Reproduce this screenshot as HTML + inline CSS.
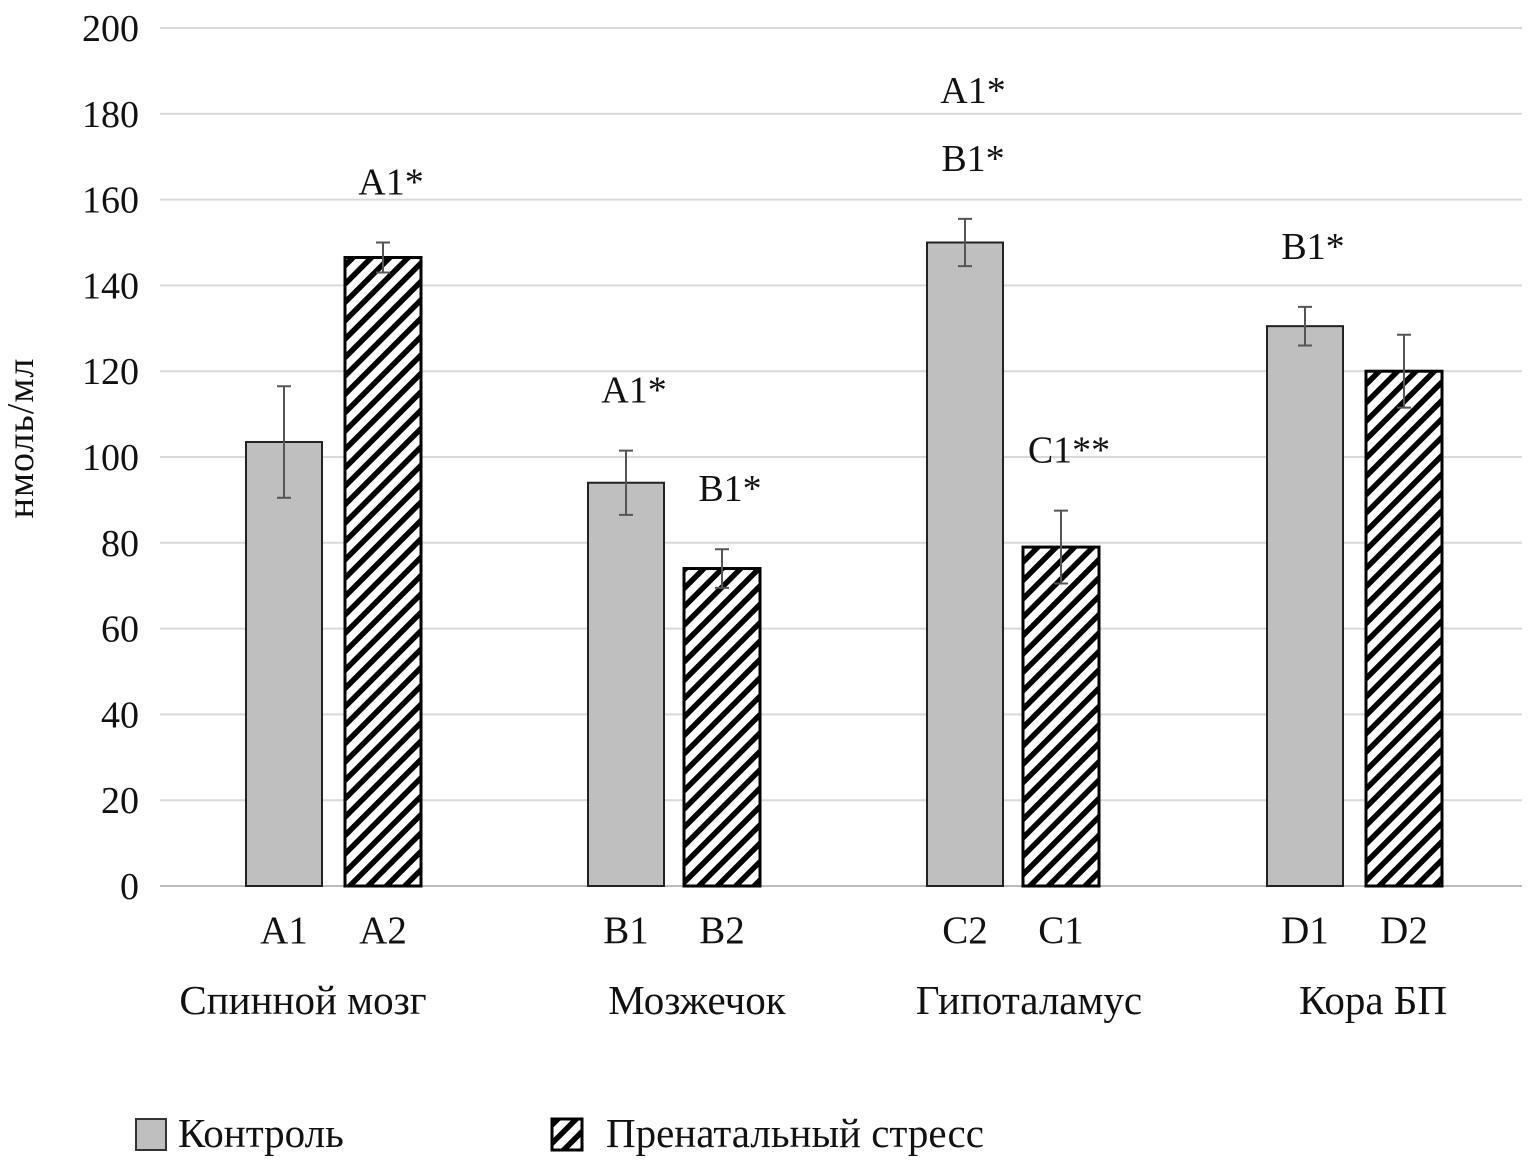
<!DOCTYPE html>
<html><head><meta charset="utf-8"><style>
html,body{margin:0;padding:0;background:#fff;width:1536px;height:1166px;overflow:hidden}
svg text{font-family:"Liberation Serif",serif;fill:#111}
</style></head><body>
<svg id="chart" width="1536" height="1166" xmlns="http://www.w3.org/2000/svg">
<defs>
<pattern id="hatch" patternUnits="userSpaceOnUse" width="13" height="13" patternTransform="rotate(45)">
<rect width="13" height="13" fill="#fff"/>
<rect x="0" y="0" width="5.5" height="13" fill="#000"/>
</pattern>
</defs>
<g id="grid"></g>
<g id="bars"></g>
<text transform="translate(33,438) rotate(-90)" font-size="38" letter-spacing="1" text-anchor="middle">нмоль/мл</text>
<g>
<rect x="136" y="1119" width="30" height="31" fill="#bfbfbf" stroke="#333" stroke-width="2"/>
<text x="178" y="1147" font-size="41">Контроль</text>
<rect x="552" y="1119" width="30" height="31" fill="url(#hatch)" stroke="#000" stroke-width="3"/>
<text x="606" y="1147" font-size="41">Пренатальный стресс</text>
</g>
</svg>
<script>
const yTicks=[0,20,40,60,80,100,120,140,160,180,200];
const barLabels=["A1","A2","B1","B2","C2","C1","D1","D2"];
const values=[103.5,146.5,94,74,150,79,130.5,120];
const errors=[13,3.5,7.5,4.5,5.5,8.5,4.5,8.5];
const hatched=[false,true,false,true,false,true,false,true];
const annotations=[[],["A1*"],["A1*"],["B1*"],["A1*","B1*"],["C1**"],["B1*"],[]];
const groups=["Спинной мозг","Мозжечок","Гипоталамус","Кора БП"];
const NS="http://www.w3.org/2000/svg";
const y=v=>886-v*4.29;
const barX=[246,345,588,684,927,1023,1267,1366];
const bw=76;
const groupX=[303,697,1029,1373];
function mk(tag,attrs,parent){const e=document.createElementNS(NS,tag);for(const k in attrs)e.setAttribute(k,attrs[k]);parent.appendChild(e);return e;}
const grid=document.getElementById('grid'),bars=document.getElementById('bars');
yTicks.forEach(t=>{
 const l=mk('line',{x1:160,x2:1522,y1:y(t),y2:y(t),stroke:t===0?'#bbb':'#d9d9d9','stroke-width':2},grid);
 
 
 const tx=mk('text',{x:139,y:y(t)+13,'font-size':38,'text-anchor':'end'},grid);
 tx.textContent=t;
 
 
});
values.forEach((v,i)=>{
 const x=barX[i];
 const r=mk('rect',{x:x,y:y(v),width:bw,height:y(0)-y(v),fill:hatched[i]?'url(#hatch)':'#bfbfbf',stroke:hatched[i]?'#000':'#222','stroke-width':hatched[i]?3:2},bars);
 
 
 const cx=x+bw/2,hi=y(v+errors[i]),lo=y(v-errors[i]);
 const eb=mk('path',{d:`M${cx} ${hi}V${lo}M${cx-7} ${hi}H${cx+7}M${cx-7} ${lo}H${cx+7}`,stroke:'#555','stroke-width':2,fill:'none'},bars);
 
 
 const lb=mk('text',{x:cx,y:943,'font-size':39,'text-anchor':'middle'},bars);
 lb.textContent=barLabels[i];
 
 
 const ann=annotations[i];
 ann.forEach((a,j)=>{
  const at=mk('text',{x:cx+8,y:hi-48-(ann.length-1-j)*68,'font-size':38,'text-anchor':'middle'},bars);
  at.textContent=a;
  
  
 });
});
groups.forEach((g,i)=>{
 const t=mk('text',{x:groupX[i],y:1014,'font-size':41,'text-anchor':'middle'},bars);
 t.textContent=g;
 
 
});
</script>
</body></html>
